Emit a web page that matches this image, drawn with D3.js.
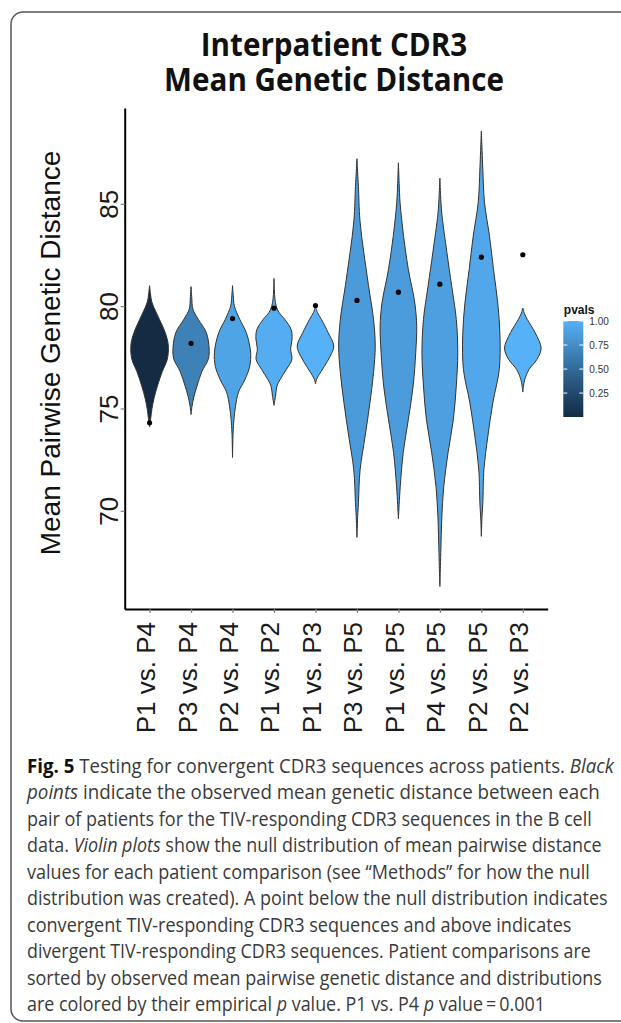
<!DOCTYPE html>
<html>
<head>
<meta charset="utf-8">
<script src="https://cdn.jsdelivr.net/npm/d3@7"></script>
<style>
  body { margin: 0; background: #fff; }
  svg { display: block; }
</style>
</head>
<body>
<div id="chart"></div>
<script>
// patient comparisons, sorted by observed distance
var comparisons = ["P1 vs. P4", "P3 vs. P4", "P2 vs. P4", "P1 vs. P2", "P1 vs. P3",
                   "P3 vs. P5", "P1 vs. P5", "P4 vs. P5", "P2 vs. P5", "P2 vs. P3"]
var observed = [74.3, 78.18, 79.39, 79.9, 80.03, 80.28, 80.68, 81.07, 82.39, 82.51]
var pvals = [0.001, 0.67, 0.91, 0.97, 1.0, 0.85, 0.86, 0.88, 0.93, 1.0]

// null distributions: [mean pairwise distance, relative density]
var nullP1P4 = [[81.0,0],[80.6,0.05],[80.2,0.12],[79.7,0.35],[79.35,0.53],[78.7,0.84],[78.1,1.0],
  [77.4,0.95],[76.8,0.68],[76.1,0.42],[75.5,0.24],[75.0,0.13],[74.5,0.06],[74.1,0]]
var nullP3P4 = [[80.95,0],[80.4,0.04],[79.85,0.1],[79.35,0.39],[78.7,0.82],[77.9,0.97],[77.4,0.92],
  [76.8,0.58],[76.1,0.32],[75.6,0.16],[75.1,0.05],[74.7,0]]
var nullP2P4 = [[81.0,0],[80.5,0.04],[80.0,0.1],[79.35,0.39],[78.7,0.74],[77.75,0.97],[77.05,0.92],
  [76.4,0.66],[75.8,0.32],[75.1,0.16],[74.5,0.08],[73.8,0.03],[72.6,0]]
var nullP1P2 = [[81.35,0],[80.8,0.02],[80.35,0.05],[80.0,0.12],[79.7,0.26],[79.35,0.58],[78.85,0.92],
  [78.4,0.97],[77.9,0.89],[77.4,0.96],[76.9,0.66],[76.4,0.32],[76.1,0.16],[75.6,0.08],[75.15,0]]
var nullP1P3 = [[80.0,0],[79.7,0.1],[79.35,0.32],[78.7,0.68],[78.05,0.98],[77.55,0.79],[77.05,0.47],
  [76.6,0.16],[76.4,0.05],[76.2,0]]
var nullP3P5 = [[87.2,0],[86.5,0.04],[85.85,0.08],[84.2,0.16],[82.6,0.37],[81.0,0.62],[79.35,0.89],
  [78.05,0.98],[76.75,0.89],[75.3,0.7],[73.65,0.44],[72.0,0.17],[70.4,0.08],[69.5,0.03],[68.7,0]]
var nullP1P5 = [[87.0,0],[86.0,0.04],[85.05,0.09],[83.4,0.28],[81.8,0.53],[80.15,0.88],[79.0,0.98],
  [77.75,0.93],[76.1,0.79],[74.45,0.53],[72.85,0.26],[71.2,0.1],[70.3,0.04],[69.6,0]]
var nullP4P5 = [[86.25,0],[85.4,0.04],[84.55,0.1],[82.6,0.38],[81.0,0.63],[79.35,0.88],[77.75,0.96],
  [76.1,0.88],[74.45,0.72],[72.85,0.44],[71.2,0.21],[69.6,0.1],[67.95,0.05],[66.3,0]]
var nullP2P5 = [[88.55,0],[87.6,0.04],[86.65,0.08],[85.05,0.17],[83.4,0.44],[81.8,0.65],[80.15,0.88],
  [78.55,1.0],[76.9,0.96],[75.3,0.62],[73.65,0.35],[72.05,0.14],[70.4,0.08],[69.6,0.03],[68.75,0]]
var nullP2P3 = [[79.9,0],[79.65,0.08],[79.35,0.24],[78.7,0.66],[77.95,0.98],[77.4,0.76],[76.9,0.33],
  [76.4,0.1],[76.1,0.04],[75.8,0]]
var nullDists = [nullP1P4, nullP3P4, nullP2P4, nullP1P2, nullP1P3,
                 nullP3P5, nullP1P5, nullP4P5, nullP2P5, nullP2P3]

var yTicks = [70, 75, 80, 85]
var legendTicks = [0.25, 0.5, 0.75, 1.0]
var titleLines = ["Interpatient CDR3", "Mean Genetic Distance"]
var yTitle = "Mean Pairwise Genetic Distance"
var legendTitle = "pvals"

var caption = [
  [["Fig. 5", "b"], [" Testing for convergent CDR3 sequences across patients. ", ""], ["Black", "i"]],
  [["points", "i"], [" indicate the observed mean genetic distance between each", ""]],
  [["pair of patients for the TIV-responding CDR3 sequences in the B cell", ""]],
  [["data. ", ""], ["Violin plots", "i"], [" show the null distribution of mean pairwise distance", ""]],
  [["values for each patient comparison (see \u201cMethods\u201d for how the null", ""]],
  [["distribution was created). A point below the null distribution indicates", ""]],
  [["convergent TIV-responding CDR3 sequences and above indicates", ""]],
  [["divergent TIV-responding CDR3 sequences. Patient comparisons are", ""]],
  [["sorted by observed mean pairwise genetic distance and distributions", ""]],
  [["are colored by their empirical ", ""], ["p", "i"], [" value. P1 vs. P4 ", ""], ["p", "i"], [" value\u2009=\u20090.001", ""]]
]
// line widths of the caption as set in the figure (px)
var captionWidths = [587, 573, 565, 575, 563, 581, 545, 564, 575, 518]

var W = 621, H = 1023
var pL = 124.7, pR = 547.7, pT = 108, pB = 609

var svg = d3.select("#chart").append("svg")
  .attr("width", W)
  .attr("height", H)

// frame
svg.append("rect")
  .attr("x", 11).attr("y", 12)
  .attr("width", 660).attr("height", 1009)
  .attr("rx", 12)
  .attr("fill", "none")
  .attr("stroke", "#555")
  .attr("stroke-width", 1.5)

// scales
var x = d3.scalePoint().domain(comparisons).range([pL, pR]).padding(0.6)
var y = d3.scaleLinear().domain([65.2, 89.68]).range([pB, pT])
var halfW = x.step() * 0.45
var w = d3.scaleLinear().domain([0, 1]).range([0, halfW])
var pExtent = d3.extent(pvals)
var color = d3.scaleLinear().domain(pExtent).range(["#132B43", "#56B1F7"]).interpolate(d3.interpolateLab)

// title
var title = svg.append("g")
  .attr("font-family", "'Open Sans', sans-serif")
  .attr("font-weight", 700)
  .attr("font-size", 32)
  .attr("fill", "#111")
var tl = title.selectAll("text")
  .data(titleLines)
  .join("text")
  .attr("text-anchor", "middle")
  .attr("y", (d, i) => 56 + i * 35)
  .text(d => d)
var tScale = 340 / tl.nodes()[1].getComputedTextLength()
tl.attr("x", 334 / tScale)
title.attr("transform", `scale(${tScale},1)`)

// violins
var area = d3.area()
  .curve(d3.curveCatmullRom)
  .y(d => y(d[0]))

var violins = svg.append("g")
comparisons.forEach(function (c, i) {
  var cx = x(c)
  violins.append("path")
    .datum(nullDists[i])
    .attr("d", area.x0(d => cx - w(d[1])).x1(d => cx + w(d[1])))
    .attr("fill", color(pvals[i]))
    .attr("stroke", "#333")
    .attr("stroke-width", 1)
})

// observed points
svg.append("g")
  .selectAll("circle")
  .data(observed)
  .join("circle")
  .attr("cx", (d, i) => x(comparisons[i]))
  .attr("cy", d => y(d))
  .attr("r", 2.6)
  .attr("fill", "#000")

// axes
var yAxis = svg.append("g")
  .attr("transform", `translate(${pL},0)`)
  .call(d3.axisLeft(y).tickValues(yTicks).tickSize(4).tickSizeOuter(0).tickFormat(d3.format("d")))
var xAxis = svg.append("g")
  .attr("transform", `translate(0,${pB})`)
  .call(d3.axisBottom(x).tickSize(4).tickSizeOuter(0))

;[yAxis, xAxis].forEach(function (a) {
  a.select(".domain").attr("stroke", "#000").attr("stroke-width", 2)
  a.selectAll(".tick line").attr("stroke", "#7f7f7f").attr("stroke-width", 1.2)
  a.selectAll(".tick text")
    .attr("font-family", "'Liberation Sans', Arial, sans-serif")
    .attr("font-size", 26)
    .attr("fill", "#1a1a1a")
})
yAxis.selectAll(".tick text")
  .attr("x", null).attr("dy", null)
  .attr("text-anchor", "middle")
  .attr("transform", "translate(-6.5,0) rotate(-90)")
  .attr("y", 0)
xAxis.selectAll(".tick text")
  .attr("y", null).attr("dy", null)
  .attr("text-anchor", "end")
  .attr("transform", "translate(5,13) rotate(-90)")

// y title
svg.append("text")
  .attr("transform", `translate(60,353) rotate(-90)`)
  .attr("text-anchor", "middle")
  .attr("font-family", "'Liberation Sans', Arial, sans-serif")
  .attr("font-size", 28)
  .attr("fill", "#111")
  .text(yTitle)

// legend colorbar
var lgX = 563.3, lgW = 20
var lgY = d3.scaleLinear().domain(pExtent).range([417, 321])
var defs = svg.append("defs")
var grad = defs.append("linearGradient")
  .attr("id", "pgrad")
  .attr("x1", 0).attr("y1", 1).attr("x2", 0).attr("y2", 0)
grad.selectAll("stop")
  .data(d3.range(0, 1.0001, 0.05))
  .join("stop")
  .attr("offset", d => d)
  .attr("stop-color", d => color(pExtent[0] + d * (pExtent[1] - pExtent[0])))

var legend = svg.append("g")
legend.append("text")
  .attr("x", lgX + 0.5).attr("y", 314)
  .attr("font-family", "'Liberation Sans', Arial, sans-serif")
  .attr("font-weight", 700)
  .attr("font-size", 12)
  .attr("fill", "#111")
  .text(legendTitle)
legend.append("rect")
  .attr("x", lgX).attr("y", lgY(pExtent[1]))
  .attr("width", lgW).attr("height", lgY(pExtent[0]) - lgY(pExtent[1]))
  .attr("fill", "url(#pgrad)")
var lt = legend.selectAll("g.lt")
  .data(legendTicks)
  .join("g")
  .attr("class", "lt")
  .attr("transform", d => `translate(0,${lgY(d)})`)
lt.append("line").attr("x1", lgX).attr("x2", lgX + 4).attr("stroke", "#fff")
lt.append("line").attr("x1", lgX + lgW - 4).attr("x2", lgX + lgW).attr("stroke", "#fff")
lt.append("text")
  .attr("x", lgX + 26)
  .attr("dy", "0.35em")
  .attr("font-family", "'Liberation Sans', Arial, sans-serif")
  .attr("font-size", 10)
  .attr("fill", "#333")
  .text(d => d3.format(".2f")(d))

// caption
var cap = svg.append("g")
  .attr("font-family", "'Open Sans', sans-serif")
  .attr("font-size", 19.5)
  .attr("fill", "#3a3a3a")
var capLines = cap.selectAll("text")
  .data(caption)
  .join("text")
  .attr("y", (d, i) => 773 + i * 26.45)
capLines.each(function (segs, i) {
  var t = d3.select(this)
  segs.forEach(function (s) {
    t.append("tspan")
      .attr("font-weight", s[1] == "b" ? 700 : null)
      .attr("font-style", s[1] == "i" ? "italic" : null)
      .attr("fill", s[1] == "b" ? "#111" : null)
      .text(s[0])
  })
  var s = captionWidths[i] / this.getComputedTextLength()
  t.attr("x", 27 / s).attr("transform", `scale(${s},1)`)
})
</script>
</body>
</html>
